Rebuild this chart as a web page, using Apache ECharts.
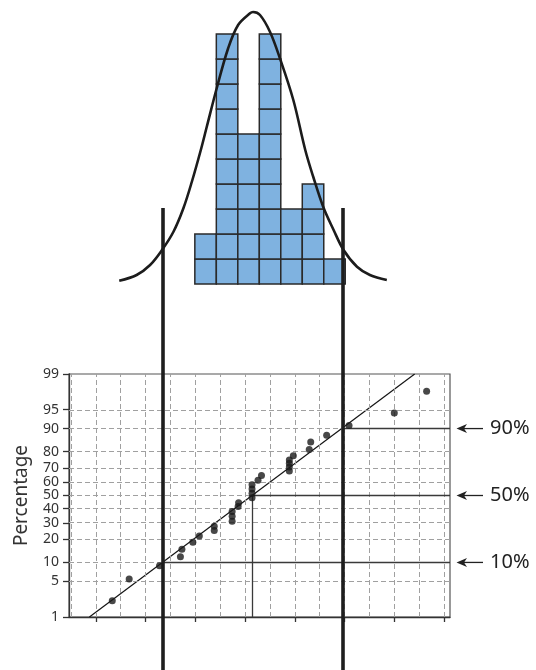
<!DOCTYPE html>
<html>
<head>
<meta charset="utf-8">
<script src="https://cdn.jsdelivr.net/npm/echarts@6/dist/echarts.min.js"></script>
<style>
  html, body { margin: 0; padding: 0; background: #fff; }
  #chart { width: 536px; height: 670px; }
</style>
</head>
<body>
<div id="chart"></div>
<script>
// Histogram: bins of equal width starting at binStart, one square per observation
const binStart = 2.99;
const binWidth = 0.432;
const binCounts = [2, 10, 6, 10, 3, 4, 1];

// Normal curve drawn over the histogram (x, height in squares)
const curvePoints = [
  [1.47, 0.13], [1.82, 0.36], [2.09, 0.76], [2.33, 1.36], [2.56, 2.09],
  [2.76, 3.03], [2.93, 4.09], [3.11, 5.36], [3.23, 6.29], [3.43, 7.83],
  [3.66, 9.43], [3.86, 10.36], [4.10, 10.83], [4.16, 10.88], [4.30, 10.76],
  [4.50, 10.09], [4.70, 9.03], [4.97, 7.36], [5.21, 5.36], [5.37, 4.29],
  [5.57, 3.09], [5.78, 2.16], [5.98, 1.36], [6.25, 0.69], [6.51, 0.36],
  [6.85, 0.16]
];

// Normal probability plot: measured value and cumulative percentage
const sampleX = [1.33, 1.67, 2.28, 2.70, 2.73, 2.95, 3.08, 3.38, 3.38, 3.74,
  3.74, 3.74, 3.86, 3.87, 4.14, 4.14, 4.14, 4.14, 4.26, 4.33,
  4.89, 4.89, 4.89, 4.89, 4.97, 5.29, 5.32, 5.64, 6.09, 7.00, 7.65];
const samplePct = [2.2, 5.5, 8.9, 12.0, 15.2, 18.5, 21.9, 25.1, 27.8, 31.1,
  34.6, 38.0, 41.6, 44.5, 48.3, 51.8, 55.0, 58.1, 61.4, 64.9,
  68.1, 70.8, 73.2, 75.1, 77.6, 81.1, 84.7, 87.6, 91.0, 94.3, 97.7];

// Straight reference line on the probability paper (x, percent)
const fitLine = [[0.87, 1], [7.41, 99]];

// Percentile read-offs
const markerPct = [10, 50, 90];
const markerX = [2.34, 4.14, 5.96];

// Axis ticks and grid
const pctTicks = [1, 5, 10, 20, 30, 40, 50, 60, 70, 80, 90, 95, 99];
const pctGrid = [5, 10, 20, 30, 40, 50, 60, 70, 80, 90, 95];
const xTicks = [1, 2, 3, 4, 5, 6, 7, 8];
const xGrid = [0.5, 1, 1.5, 2, 2.5, 3, 3.5, 4, 4.5, 5, 5.5, 6, 6.5, 7, 7.5, 8];

const X_MIN = 0.46, X_MAX = 8.12;
const SQUARES_MAX = 11.36;

// Inverse standard normal CDF (Acklam's rational approximation)
function probit(p) {
  const a = [-3.969683028665376e+01, 2.209460984245205e+02, -2.759285104469687e+02,
    1.383577518672690e+02, -3.066479806614716e+01, 2.506628277459239e+00];
  const b = [-5.447609879822406e+01, 1.615858368580409e+02, -1.556989798598866e+02,
    6.680131188771972e+01, -1.328068155288572e+01];
  const c = [-7.784894002430293e-03, -3.223964580411365e-01, -2.400758277161838e+00,
    -2.549732539343734e+00, 4.374664141464968e+00, 2.938163982698783e+00];
  const d = [7.784695709041462e-03, 3.224671290700398e-01, 2.445134137142996e+00,
    3.754408661907416e+00];
  const pl = 0.02425, ph = 1 - pl;
  let q, r;
  if (p < pl) {
    q = Math.sqrt(-2 * Math.log(p));
    return (((((c[0] * q + c[1]) * q + c[2]) * q + c[3]) * q + c[4]) * q + c[5]) /
      ((((d[0] * q + d[1]) * q + d[2]) * q + d[3]) * q + 1);
  }
  if (p <= ph) {
    q = p - 0.5; r = q * q;
    return (((((a[0] * r + a[1]) * r + a[2]) * r + a[3]) * r + a[4]) * r + a[5]) * q /
      (((((b[0] * r + b[1]) * r + b[2]) * r + b[3]) * r + b[4]) * r + 1);
  }
  q = Math.sqrt(-2 * Math.log(1 - p));
  return -(((((c[0] * q + c[1]) * q + c[2]) * q + c[3]) * q + c[4]) * q + c[5]) /
    ((((d[0] * q + d[1]) * q + d[2]) * q + d[3]) * q + 1);
}
const z = pct => probit(pct / 100);
const Z_MIN = z(pctTicks[0]);
const Z_MAX = z(pctTicks[pctTicks.length - 1]);
const FONT = '"Noto Sans", "Open Sans", sans-serif';

const chart = echarts.init(document.getElementById('chart'), null, { renderer: 'canvas' });

const hiddenX = (gi) => ({ gridIndex: gi, type: 'value', min: X_MIN, max: X_MAX, show: false });

const option = {
  animation: false,
  backgroundColor: '#fff',
  grid: [
    { left: 69, right: 86, top: 0, height: 284 },
    { left: 69, right: 86, top: 374, height: 243, show: true, borderColor: '#555', borderWidth: 1.2 },
    { left: 69, right: 86, top: 208, bottom: 0 }
  ],
  xAxis: [
    hiddenX(0),
    {
      gridIndex: 1, type: 'value', min: X_MIN, max: X_MAX,
      axisLine: { show: true, onZero: false, lineStyle: { color: '#333', width: 1.3 } },
      axisTick: { show: true, inside: false, length: 5, customValues: xTicks, lineStyle: { color: '#333', width: 1.3 } },
      axisLabel: { show: false },
      splitLine: { show: false }
    },
    hiddenX(2)
  ],
  yAxis: [
    { gridIndex: 0, type: 'value', min: 0, max: SQUARES_MAX, show: false },
    {
      gridIndex: 1, type: 'value', min: Z_MIN, max: Z_MAX,
      name: 'Percentage', nameLocation: 'middle', nameGap: 38,
      nameTextStyle: { fontFamily: FONT, fontSize: 19, color: '#333' },
      axisLine: { show: true, onZero: false, lineStyle: { color: '#333', width: 1.3 } },
      axisTick: { show: true, inside: false, length: 6, customValues: pctTicks.map(z), lineStyle: { color: '#333', width: 1.3 } },
      axisLabel: {
        show: true, margin: 10, fontFamily: FONT, fontSize: 14, color: '#333',
        customValues: pctTicks.map(z), showMinLabel: true, showMaxLabel: true,
        formatter: v => {
          let best = pctTicks[0], bd = Infinity;
          pctTicks.forEach(p => { const dd = Math.abs(z(p) - v); if (dd < bd) { bd = dd; best = p; } });
          return String(best);
        }
      },
      splitLine: { show: false }
    },
    { gridIndex: 2, type: 'value', min: 0, max: 1, show: false }
  ],
  series: [
    {
      // stacked squares of the histogram
      type: 'custom', xAxisIndex: 0, yAxisIndex: 0, z: 2,
      data: binCounts.map((c, i) => [i, c]),
      renderItem: (params, api) => {
        const i = api.value(0), n = api.value(1);
        const children = [];
        for (let k = 0; k < n; k++) {
          const p0 = api.coord([binStart + i * binWidth, k + 1]);
          const p1 = api.coord([binStart + (i + 1) * binWidth, k]);
          children.push({
            type: 'rect',
            shape: { x: p0[0], y: p0[1], width: p1[0] - p0[0], height: p1[1] - p0[1] },
            style: { fill: '#7fb2e0', stroke: '#2a2a2a', lineWidth: 1.5 }
          });
        }
        return { type: 'group', children };
      }
    },
    {
      type: 'line', xAxisIndex: 0, yAxisIndex: 0, z: 4,
      data: curvePoints, smooth: 0.35, showSymbol: false, symbol: 'none',
      lineStyle: { color: '#1c1c1c', width: 2.6 }
    },
    {
      // dashed grid of the probability paper
      type: 'line', xAxisIndex: 1, yAxisIndex: 1, z: 1, data: [], silent: true,
      markLine: {
        silent: true, symbol: ['none', 'none'], label: { show: false },
        lineStyle: { type: [5, 3], color: '#a0a0a0', width: 1 },
        emphasis: { disabled: true },
        data: [...xGrid.map(v => ({ xAxis: v })), ...pctGrid.map(p => ({ yAxis: z(p) }))]
      }
    },
    {
      // percentile read-off lines
      type: 'line', xAxisIndex: 1, yAxisIndex: 1, z: 3, data: [], silent: true,
      markLine: {
        silent: true, symbol: ['none', 'none'], label: { show: false },
        lineStyle: { type: 'solid', color: '#3a3a3a', width: 1.3 },
        emphasis: { disabled: true },
        data: [
          ...markerPct.map((p, i) => [{ coord: [markerX[i], z(p)] }, { coord: [X_MAX, z(p)] }]),
          [{ coord: [markerX[1], z(markerPct[1])] }, { coord: [markerX[1], Z_MIN] }]
        ]
      }
    },
    {
      type: 'line', xAxisIndex: 1, yAxisIndex: 1, z: 4,
      data: fitLine.map(([x, p]) => [x, z(p)]), symbol: 'none',
      lineStyle: { color: '#151515', width: 1.2 }
    },
    {
      type: 'scatter', xAxisIndex: 1, yAxisIndex: 1, z: 5,
      data: sampleX.map((x, i) => [x, z(samplePct[i])]),
      symbolSize: 7, itemStyle: { color: '#1a1a1a' }
    },
    {
      // heavy lines at the 10th and 90th percentiles
      type: 'line', xAxisIndex: 2, yAxisIndex: 2, z: 6, data: [], silent: true,
      markLine: {
        silent: true, symbol: ['none', 'none'], label: { show: false },
        lineStyle: { type: 'solid', color: '#1e1e1e', width: 3.6 },
        emphasis: { disabled: true },
        data: [{ xAxis: markerX[0] }, { xAxis: markerX[2] }]
      }
    }
  ]
};
chart.setOption(option);

// Arrows and percentile labels to the right of the probability plot
const annotations = [];
markerPct.forEach(p => {
  const [xr, y] = chart.convertToPixel({ gridIndex: 1 }, [X_MAX, z(p)]);
  annotations.push({
    type: 'line', shape: { x1: xr + 12, y1: y, x2: xr + 33, y2: y },
    style: { stroke: '#222', lineWidth: 1.3 }
  });
  annotations.push({
    type: 'polygon',
    shape: { points: [[xr + 6.5, y], [xr + 17, y - 4.5], [xr + 14, y], [xr + 17, y + 4.5]] },
    style: { fill: '#222' }
  });
  annotations.push({
    type: 'text', x: xr + 40, y: y,
    style: { text: p + '%', font: '20px ' + FONT, fill: '#222', verticalAlign: 'middle' }
  });
});
chart.setOption({ graphic: annotations });
</script>
</body>
</html>
